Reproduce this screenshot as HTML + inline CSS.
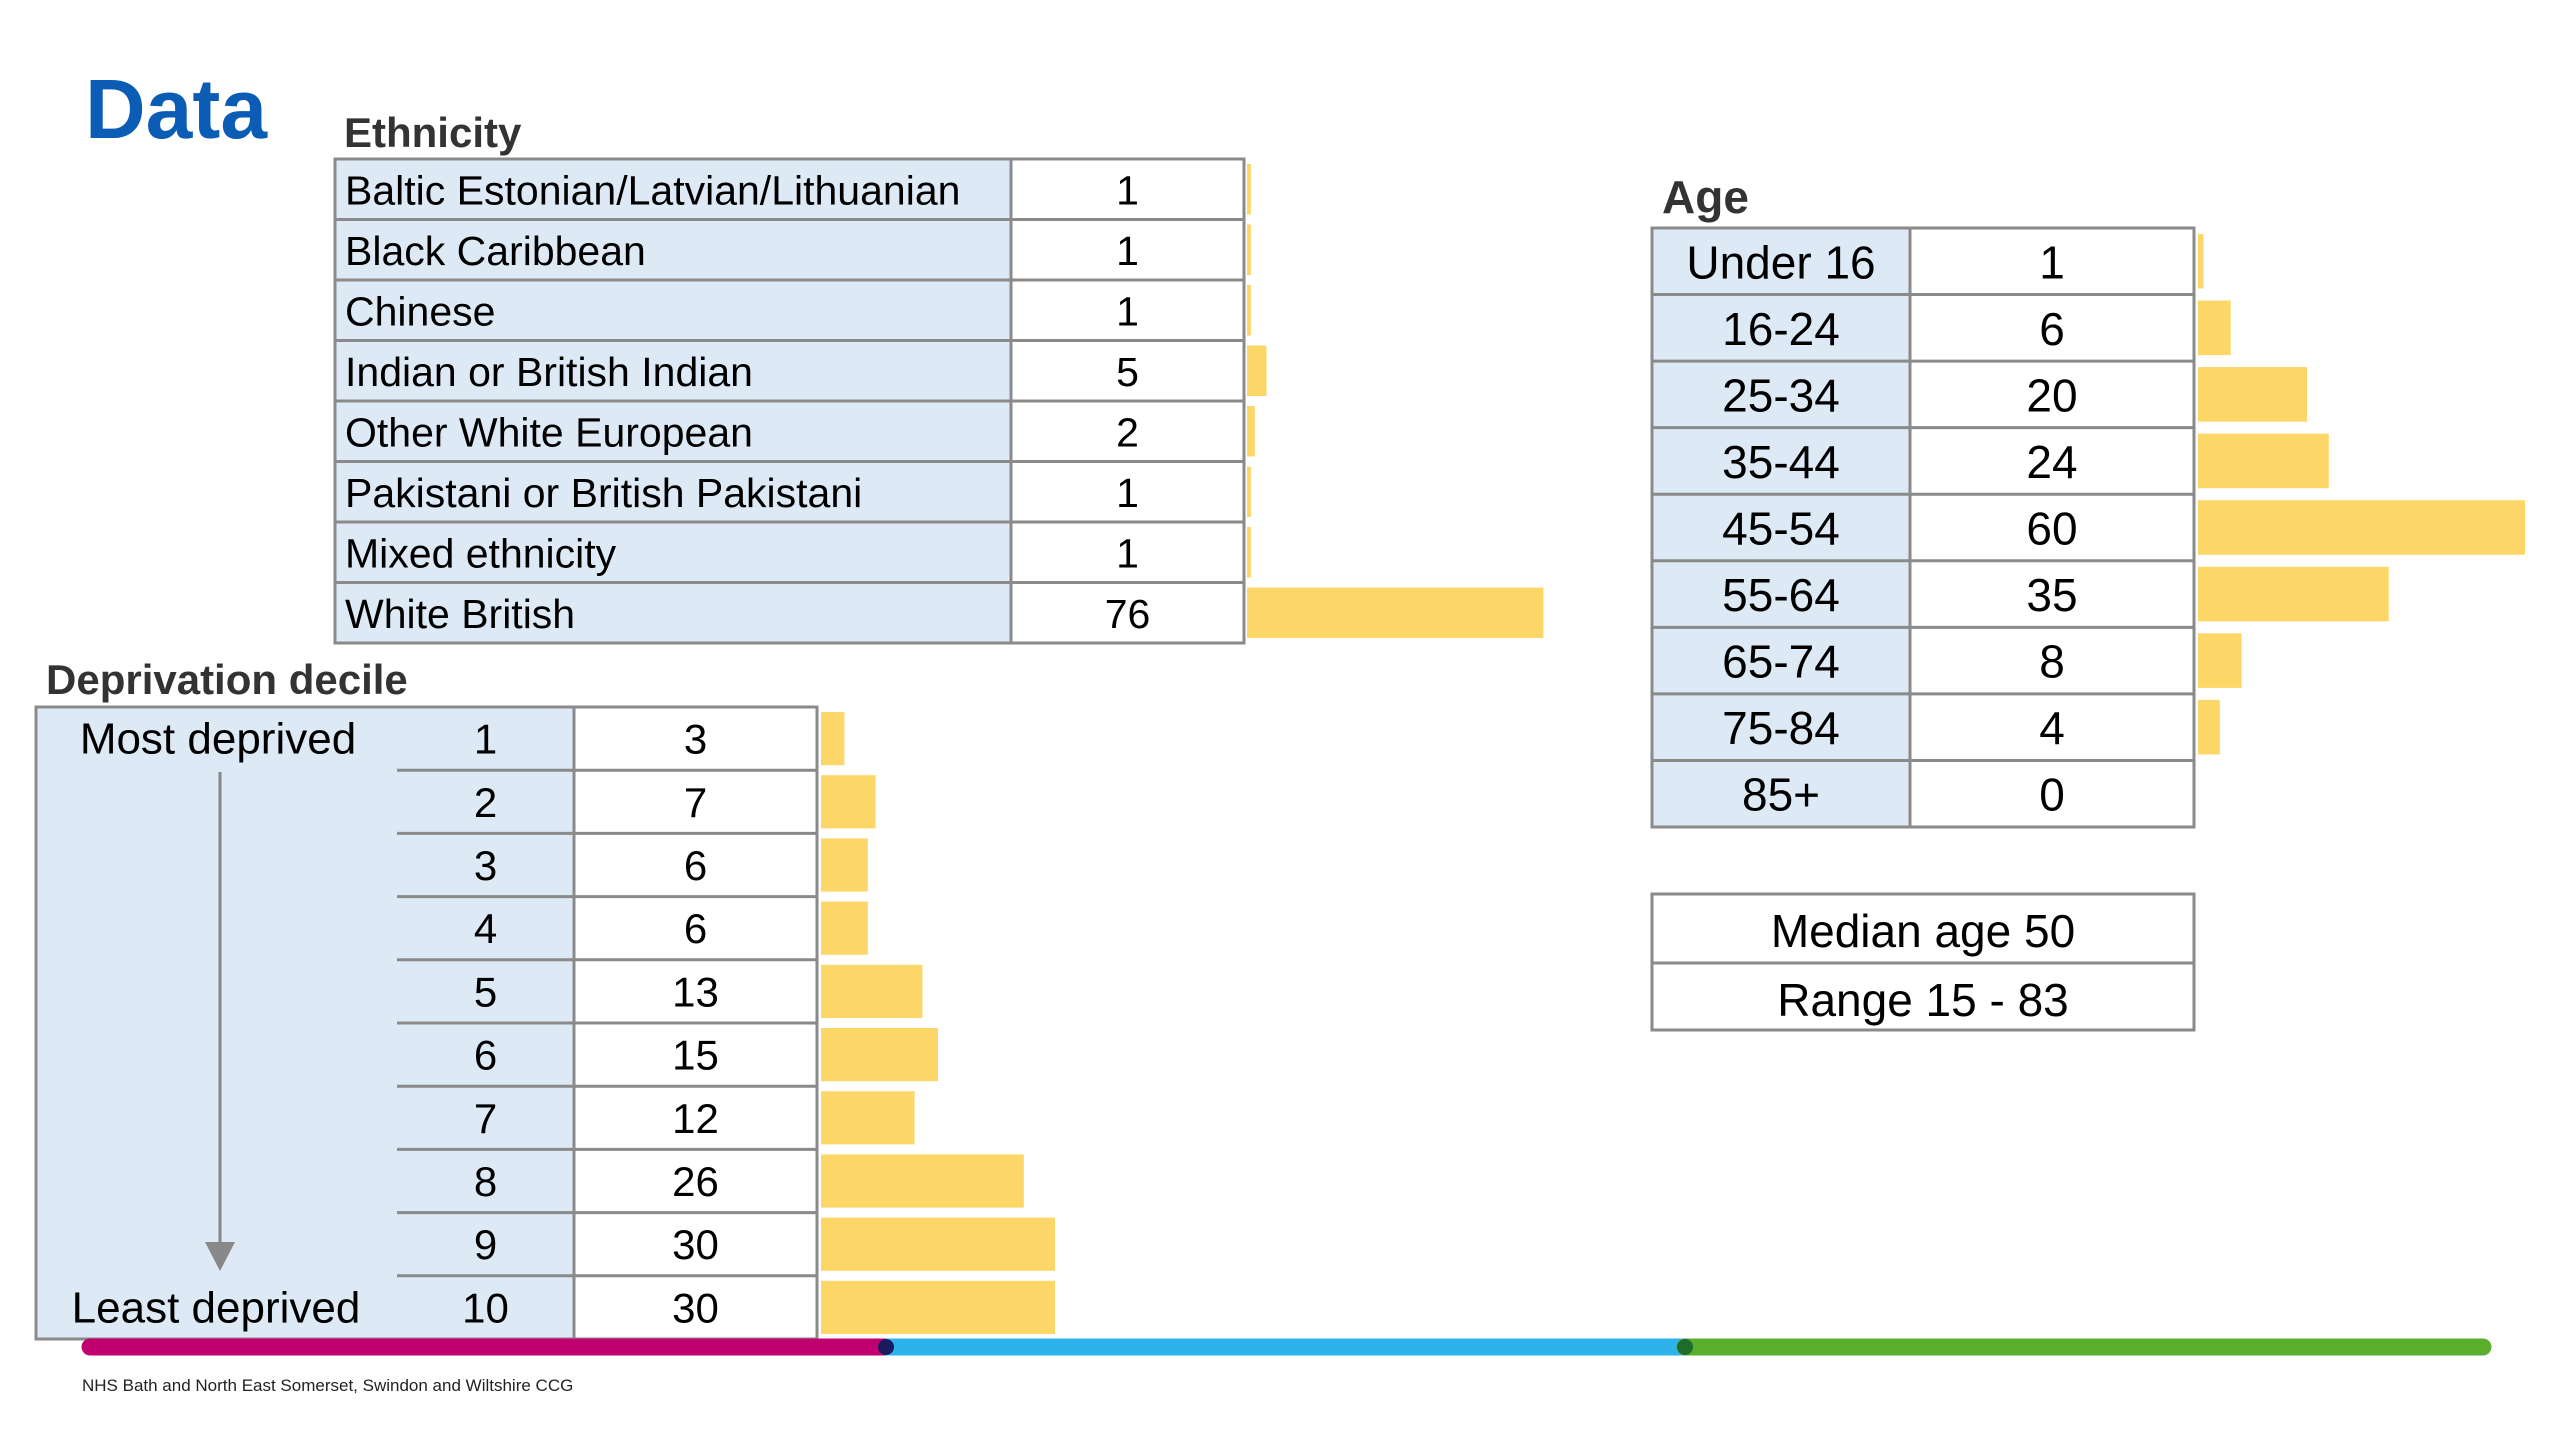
<!DOCTYPE html>
<html><head><meta charset="utf-8"><style>
html,body{margin:0;padding:0;background:#fff;}
svg{display:block;font-family:"Liberation Sans",Arial,sans-serif;}
</style></head><body>
<svg id="s" width="2560" height="1440" viewBox="0 0 2560 1440">
<text x="85" y="138" font-size="84" font-weight="bold" fill="#0b5cb5">Data</text>
<text x="344" y="147" font-size="42" font-weight="bold" fill="#333">Ethnicity</text>
<text x="46" y="694" font-size="42" font-weight="bold" fill="#333">Deprivation decile</text>
<text x="1662" y="213" font-size="46" font-weight="bold" fill="#333">Age</text>
<g id="eth"></g>
<g id="dep"></g>
<g id="age"></g>
<g>
<rect x="1652" y="894" width="542" height="136" fill="#fff" stroke="#8a8a8a" stroke-width="3"/>
<line x1="1652" y1="963" x2="2194" y2="963" stroke="#8a8a8a" stroke-width="3"/>
<text x="1923" y="947" font-size="46" text-anchor="middle">Median age 50</text>
<text x="1923" y="1016" font-size="46" text-anchor="middle">Range 15 - 83</text>
</g>
<g>
<line x1="90" y1="1347" x2="886" y2="1347" stroke="#c0006e" stroke-width="17" stroke-linecap="round"/>
<line x1="886" y1="1347" x2="1685" y2="1347" stroke="#2db3ea" stroke-width="17"/>
<line x1="1685" y1="1347" x2="2483" y2="1347" stroke="#5aae2e" stroke-width="17" stroke-linecap="round"/>
<circle cx="886" cy="1347" r="8" fill="#1a1a5e"/>
<circle cx="1685" cy="1347" r="8" fill="#1f6b2a"/>
</g>
<text x="82" y="1391" font-size="17" fill="#222">NHS Bath and North East Somerset, Swindon and Wiltshire CCG</text>
</svg>
<script>
const ethCategories=["Baltic Estonian/Latvian/Lithuanian","Black Caribbean","Chinese","Indian or British Indian","Other White European","Pakistani or British Pakistani","Mixed ethnicity","White British"];
const ethValues=[1,1,1,5,2,1,1,76];
const depCategories=["1","2","3","4","5","6","7","8","9","10"];
const depValues=[3,7,6,6,13,15,12,26,30,30];
const ageCategories=["Under 16","16-24","25-34","35-44","45-54","55-64","65-74","75-84","85+"];
const ageValues=[1,6,20,24,60,35,8,4,0];

const NS="http://www.w3.org/2000/svg";
function mk(parent,tag,attrs,txt){const e=document.createElementNS(NS,tag);for(const k in attrs)e.setAttribute(k,attrs[k]);if(txt!==undefined)e.textContent=txt;parent.appendChild(e);return e;}
const BLUE="#dde9f5",BORDER="#8a8a8a",BAR="#fdd668";

// Ethnicity
(function(){
  const g=document.getElementById('eth');
  const L=335,S=1011,R=1244,T=159,B=643,rh=(B-T)/ethCategories.length;
  const xs=v=>v*3.9;
  mk(g,'rect',{x:L,y:T,width:S-L,height:B-T,fill:BLUE});
  mk(g,'rect',{x:S,y:T,width:R-S,height:B-T,fill:'#fff'});
  ethCategories.forEach((c,i)=>{
    const y=T+i*rh;
    if(i>0){const ln=mk(g,'line',{x1:L,y1:y,x2:R,y2:y,stroke:BORDER,'stroke-width':3});}
    const t=mk(g,'text',{x:L+10,y:y+rh/2+15,'font-size':41},c);
    
    
    const v=mk(g,'text',{x:(S+R)/2,y:y+rh/2+15,'font-size':41,'text-anchor':'middle'},ethValues[i]);
    
    
    const b=mk(g,'rect',{x:R+3,y:y+5,width:xs(ethValues[i]),height:rh-10,fill:BAR});
    
    
  });
  mk(g,'line',{x1:S,y1:T,x2:S,y2:B,stroke:BORDER,'stroke-width':3});
  mk(g,'rect',{x:L,y:T,width:R-L,height:B-T,fill:'none',stroke:BORDER,'stroke-width':3});
})();

// Deprivation
(function(){
  const g=document.getElementById('dep');
  const L=36,S1=397,S2=574,R=817,T=707,B=1339,rh=(B-T)/depCategories.length;
  const xs=v=>v*7.8;
  mk(g,'rect',{x:L,y:T,width:S2-L,height:B-T,fill:BLUE});
  mk(g,'rect',{x:S2,y:T,width:R-S2,height:B-T,fill:'#fff'});
  depCategories.forEach((c,i)=>{
    const y=T+i*rh;
    if(i>0) mk(g,'line',{x1:S1,y1:y,x2:R,y2:y,stroke:BORDER,'stroke-width':3});
    const t=mk(g,'text',{x:(S1+S2)/2,y:y+rh/2+15,'font-size':42,'text-anchor':'middle'},c);
    
    
    const v=mk(g,'text',{x:(S2+R)/2,y:y+rh/2+15,'font-size':42,'text-anchor':'middle'},depValues[i]);
    
    
    const b=mk(g,'rect',{x:R+4,y:y+5,width:xs(depValues[i]),height:rh-10,fill:BAR});
    
    
  });
  mk(g,'line',{x1:S2,y1:T,x2:S2,y2:B,stroke:BORDER,'stroke-width':3});
  mk(g,'rect',{x:L,y:T,width:R-L,height:B-T,fill:'none',stroke:BORDER,'stroke-width':3});
  const m=mk(g,'text',{x:218,y:T+rh/2+15,'font-size':44,'text-anchor':'middle'},'Most deprived');
  
  
  const l=mk(g,'text',{x:216,y:T+9*rh+rh/2+15,'font-size':44,'text-anchor':'middle'},'Least deprived');
  
  
  const a=mk(g,'line',{x1:220,y1:772,x2:220,y2:1250,stroke:'#888','stroke-width':3});
  
  
  mk(g,'polygon',{points:'205,1242 235,1242 220,1271',fill:'#888'});
})();

// Age
(function(){
  const g=document.getElementById('age');
  const L=1652,S=1910,R=2194,T=228,B=827,rh=(B-T)/ageCategories.length;
  const xs=v=>v*5.45;
  mk(g,'rect',{x:L,y:T,width:S-L,height:B-T,fill:BLUE});
  mk(g,'rect',{x:S,y:T,width:R-S,height:B-T,fill:'#fff'});
  ageCategories.forEach((c,i)=>{
    const y=T+i*rh;
    if(i>0) mk(g,'line',{x1:L,y1:y,x2:R,y2:y,stroke:BORDER,'stroke-width':3});
    const t=mk(g,'text',{x:(L+S)/2,y:y+rh/2+17,'font-size':46,'text-anchor':'middle'},c);
    
    
    const v=mk(g,'text',{x:(S+R)/2,y:y+rh/2+17,'font-size':46,'text-anchor':'middle'},ageValues[i]);
    
    
    const b=mk(g,'rect',{x:R+4,y:y+6,width:xs(ageValues[i]),height:rh-12,fill:BAR});
    
    
  });
  mk(g,'line',{x1:S,y1:T,x2:S,y2:B,stroke:BORDER,'stroke-width':3});
  mk(g,'rect',{x:L,y:T,width:R-L,height:B-T,fill:'none',stroke:BORDER,'stroke-width':3});
})();
</script>
</body></html>
